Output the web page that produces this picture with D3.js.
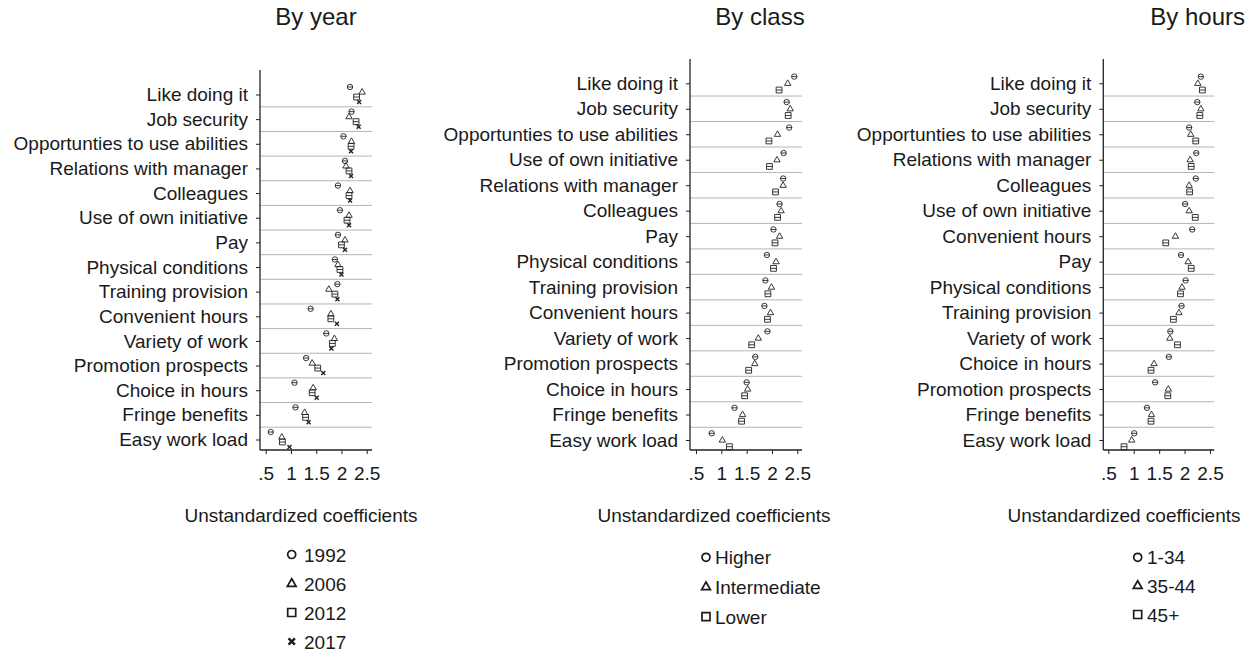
<!DOCTYPE html>
<html><head><meta charset="utf-8">
<script src="https://cdn.jsdelivr.net/npm/d3@7"></script>
<style>
html,body{margin:0;padding:0;background:#fff;}
text{font-family:'Liberation Sans',Arial,sans-serif;fill:#1a1a1a;}
</style></head>
<body><svg id="c" width="1247" height="652"></svg>
<script>
// ---------- DATA ----------
const tickValues = [0.5, 1, 1.5, 2, 2.5];

const yearRows = ["Like doing it","Job security","Opportunties to use abilities","Relations with manager","Colleagues","Use of own initiative","Pay","Physical conditions","Training provision","Convenient hours","Variety of work","Promotion prospects","Choice in hours","Fringe benefits","Easy work load"];
const yearKeys = ["1992","2006","2012","2017"];
const y1992 = [2.17,2.20,2.04,2.07,1.93,1.97,1.93,1.87,1.92,1.39,1.70,1.30,1.07,1.09,0.60];
const y2006 = [2.41,2.15,2.20,2.09,2.17,2.15,2.07,1.93,1.75,1.79,1.86,1.42,1.44,1.27,0.82];
const y2012 = [2.30,2.29,2.19,2.15,2.15,2.11,2.00,1.97,1.87,1.79,1.82,1.53,1.42,1.29,0.83];
const y2017 = [2.35,2.34,2.19,2.19,2.17,2.15,2.07,2.00,1.92,1.91,1.80,1.64,1.51,1.35,0.97];

const classRows = ["Like doing it","Job security","Opportunties to use abilities","Use of own initiative","Relations with manager","Colleagues","Pay","Physical conditions","Training provision","Convenient hours","Variety of work","Promotion prospects","Choice in hours","Fringe benefits","Easy work load"];
const classKeys = ["Higher","Intermediate","Lower"];
const cHigher = [2.44,2.29,2.34,2.23,2.22,2.15,2.03,1.90,1.87,1.85,1.91,1.67,1.50,1.26,0.81];
const cInter  = [2.31,2.36,2.11,2.10,2.22,2.18,2.15,2.08,1.99,1.97,1.73,1.66,1.52,1.42,1.02];
const cLower  = [2.14,2.32,1.94,1.95,2.07,2.11,2.06,2.03,1.92,1.91,1.60,1.54,1.46,1.40,1.16];

const hourRows = ["Like doing it","Job security","Opportunties to use abilities","Relations with manager","Colleagues","Use of own initiative","Convenient hours","Pay","Physical conditions","Training provision","Variety of work","Choice in hours","Promotion prospects","Fringe benefits","Easy work load"];
const hourKeys = ["1-34","35-44","45+"];
const h134 = [2.32,2.25,2.09,2.23,2.22,2.01,2.15,1.93,2.02,1.94,1.72,1.69,1.42,1.26,1.01];
const h3544 = [2.26,2.32,2.12,2.11,2.09,2.09,1.82,2.07,1.95,1.89,1.71,1.40,1.68,1.35,0.96];
const h45 = [2.35,2.30,2.22,2.13,2.10,2.21,1.63,2.13,1.92,1.78,1.86,1.34,1.67,1.34,0.81];

// ---------- DRAW ----------
const svg = d3.select("#c");
const FONT = 19;

function markerPath(type, s, withBar){
  if(type==="circle"){
    let p = `M${-s},0A${s},${s} 0 1,0 ${s},0A${s},${s} 0 1,0 ${-s},0Z`;
    if(withBar) p += `M${-s},0L${s},0`;
    return p;
  }
  if(type==="triangle"){
    const h = s*1.9;
    return `M0,${-h*0.62}L${s*1.1},${h*0.38}L${-s*1.1},${h*0.38}Z`;
  }
  if(type==="square"){
    let p = `M${-s},${-s}H${s}V${s}H${-s}Z`;
    if(withBar) p += `M${-s},0H${s}`;
    return p;
  }
  if(type==="x"){
    return `M${-s},${-s}L${s},${s}M${-s},${s}L${s},${-s}`;
  }
}
const shapes = ["circle","triangle","square","x"];

function panel(cfg){
  const g = svg.append("g");
  const x = d3.scaleLinear().domain([0.5,2.5]).range([cfg.x0, cfg.x1]);
  const y = d3.scalePoint().domain(cfg.rows).range([cfg.yFirst, cfg.yLast]);
  const step = y.step();

  g.selectAll("line.grid").data(cfg.rows.slice(0,-1)).join("line")
    .attr("x1", cfg.axisX).attr("x2", cfg.right)
    .attr("y1", d=>y(d)+step/2).attr("y2", d=>y(d)+step/2)
    .attr("stroke","#b5b5b5").attr("stroke-width",1);

  const ya = g.append("g").attr("transform",`translate(${cfg.axisX},0)`)
    .call(d3.axisLeft(y).tickSize(4).tickPadding(8));
  ya.select(".domain").remove();
  ya.selectAll(".tick line").attr("stroke","#222");
  ya.selectAll(".tick text").attr("font-size",FONT).attr("font-family",null).attr("fill","#1a1a1a");
  g.append("line").attr("x1",cfg.axisX).attr("x2",cfg.axisX).attr("y1",cfg.top).attr("y2",cfg.bottom)
    .attr("stroke","#222").attr("stroke-width",1.3);

  const xa = g.append("g").attr("transform",`translate(0,${cfg.bottom})`)
    .call(d3.axisBottom(x).tickValues(tickValues).tickSize(4)
      .tickFormat(d=>String(d).replace(/^0\./,".")));
  xa.select(".domain").remove();
  xa.selectAll(".tick line").attr("stroke","#222");
  xa.selectAll(".tick text").attr("font-size",FONT).attr("font-family",null)
    .attr("y",30).attr("dy",null).attr("fill","#1a1a1a");
  g.append("line").attr("x1",cfg.axisX).attr("x2",cfg.right).attr("y1",cfg.bottom).attr("y2",cfg.bottom)
    .attr("stroke","#222").attr("stroke-width",1.3);

  cfg.series.forEach((vals, si)=>{
    const type = shapes[si];
    const off = cfg.offsets[si];
    g.selectAll(null).data(vals).join("path")
      .attr("transform",(d,i)=>`translate(${x(d)},${y(cfg.rows[i])+off})`)
      .attr("d", markerPath(type, type==="x"?2:(type==="circle"?2.7:2.9), true))
      .attr("fill","none").attr("stroke","#222")
      .attr("stroke-width", type==="x"?1.4:0.9);
  });

  g.append("text").attr("x",cfg.titleX).attr("y",25).attr("text-anchor",cfg.titleAnchor||"middle")
    .attr("font-size",24).text(cfg.title);
  g.append("text").attr("x",cfg.xtitleX).attr("y",522).attr("text-anchor","middle")
    .attr("font-size",FONT).text("Unstandardized coefficients");

  cfg.keys.forEach((k,i)=>{
    const ly = cfg.legY[i];
    const type = shapes[i];
    g.append("path").attr("transform",`translate(${cfg.legX},${ly})`)
      .attr("d", markerPath(type, type==="x"?3.2:4, false))
      .attr("fill","none").attr("stroke","#1a1a1a")
      .attr("stroke-width", type==="x"?2.4:1.7)
      .attr("stroke-linejoin","miter");
    g.append("text").attr("x",cfg.legTextX).attr("y",ly+7).attr("font-size",FONT).text(k);
  });
}

panel({
  rows: yearRows, series:[y1992,y2006,y2012,y2017], keys: yearKeys,
  axisX:260, right:372, x0:265.7, x1:366.7, top:70, bottom:450,
  yFirst:94.5, yLast:439.5, offsets:[-7.5,-2.5,2.5,7.5],
  title:"By year", titleX:316, xtitleX:301,
  legX:291.7, legTextX:304, legY:[554.5,583.5,612.5,641.5]
});
panel({
  rows: classRows, series:[cHigher,cInter,cLower], keys: classKeys,
  axisX:690, right:802, x0:696, x1:797.3, top:59, bottom:450,
  yFirst:83.3, yLast:440, offsets:[-6.7,0,6.7],
  title:"By class", titleX:760, xtitleX:714,
  legX:706, legTextX:715, legY:[557.3,586.7,616.7]
});
panel({
  rows: hourRows, series:[h134,h3544,h45], keys: hourKeys,
  axisX:1103.3, right:1214.3, x0:1108.3, x1:1210, top:59, bottom:450,
  yFirst:83.3, yLast:440, offsets:[-6.7,0,6.7],
  title:"By hours", titleX:1245, titleAnchor:"end", xtitleX:1124,
  legX:1137.7, legTextX:1147, legY:[557.3,585.5,614.5]
});
</script></body></html>
